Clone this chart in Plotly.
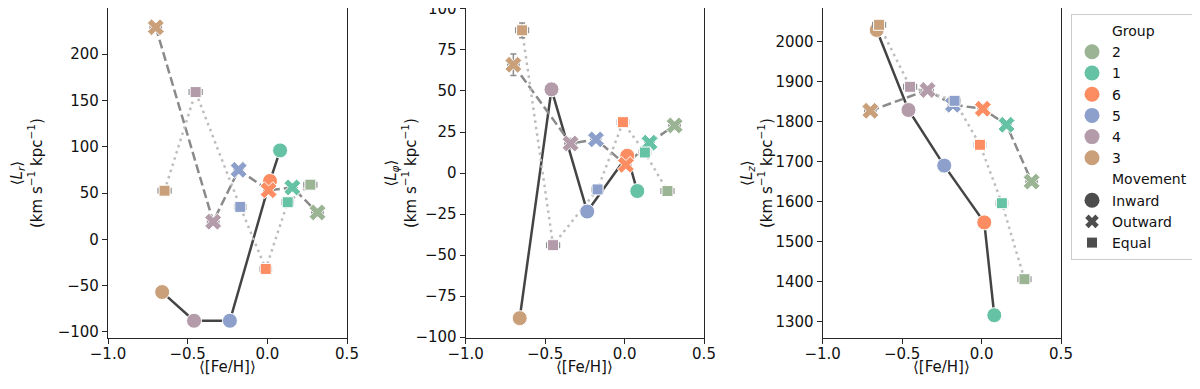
import plotly.graph_objects as go
from plotly.subplots import make_subplots

# groups in the order the lines run through them
groups = ['3', '4', '5', '6', '1', '2']
legend_groups = ['2', '1', '6', '5', '4', '3']
group_colors = {'2': '#9ab494', '1': '#66c2a5', '6': '#fc8d62',
                '5': '#8da0cb', '4': '#b39baa', '3': '#c9a07a'}

# <[Fe/H]> per group, one list per movement type (None = no such group)
feh_inward = [-0.66, -0.46, -0.235, 0.017, 0.08, None]
feh_outward = [-0.70, -0.34, -0.18, 0.008, 0.157, 0.315]
feh_equal = [-0.645, -0.45, -0.17, -0.01, 0.128, 0.27]
feh_err_inward = [0.03, 0.03, 0.03, 0.02, 0.02, None]
feh_err_outward = [0.035, 0.035, 0.03, 0.03, 0.03, 0.035]
feh_err_equal = [0.04, 0.04, 0.035, 0.035, 0.035, 0.04]

# <L_r>
lr_inward = [-57, -88, -88, 63, 96, None]
lr_outward = [229, 19, 75, 53, 56, 29]
lr_equal = [52.5, 159, 35, -32, 40, 59]
lr_err_inward = [2, 2, 2, 2, 2, None]
lr_err_outward = [4, 3, 2, 2, 2, 2]
lr_err_equal = [3, 4, 2, 2, 2, 2]

# <L_phi>
lphi_inward = [-88.5, 51, -23.5, 10.5, -11, None]
lphi_outward = [66, 18, 20.5, 5, 18.5, 29]
lphi_equal = [87, -44, -10, 31, 12.5, -11]
lphi_err_inward = [2, 2, 2, 2, 2, None]
lphi_err_outward = [6.5, 3, 2, 2, 2, 2]
lphi_err_equal = [4.5, 3, 2, 2, 2, 2]

# <L_z>
lz_inward = [2029, 1829, 1690, 1548, 1316, None]
lz_outward = [1827, 1879, 1842, 1832, 1792, 1650]
lz_equal = [2042, 1887, 1852, 1742, 1596, 1406]
lz_err_inward = [8, 6, 5, 5, 6, None]
lz_err_outward = [6, 6, 5, 5, 5, 6]
lz_err_equal = [9, 7, 5, 5, 6, 7]

panels = [
    (lr_inward, lr_outward, lr_equal, lr_err_inward, lr_err_outward, lr_err_equal),
    (lphi_inward, lphi_outward, lphi_equal, lphi_err_inward, lphi_err_outward, lphi_err_equal),
    (lz_inward, lz_outward, lz_equal, lz_err_inward, lz_err_outward, lz_err_equal),
]
y_ranges = [[-106.6, 249.8], [-100.6, 100.6], [1259, 2084]]
y_dticks = [50, 25, 100]
y_titles = ['⟨<i>L<sub>r</sub></i>⟩', '⟨<i>L<sub>φ</sub></i>⟩', '⟨<i>L<sub>z</sub></i>⟩']

FONT = 'DejaVu Sans'
# page body has an 8px margin, so the figure is a bit smaller than the window
OFF = 8
W, H = 1192, 381


def xp(px):
    return (px - OFF) / W


def yp(py):
    return 1 - (py - OFF) / H


fig = make_subplots(rows=1, cols=3)

movements = [
    ('Inward', 'circle', 15, '#444444', 'solid'),
    ('Outward', 'x', 15, '#8a8a8a', '9px,4px'),
    ('Equal', 'square', 11, '#bdbdbd', '2.5px,4px'),
]
fehs = [feh_inward, feh_outward, feh_equal]
feh_errs = [feh_err_inward, feh_err_outward, feh_err_equal]

for p, data in enumerate(panels):
    ys = data[:3]
    yerrs = data[3:]
    # connecting lines first, so markers sit on top
    for m, (name, sym, size, lcol, dash) in enumerate(movements):
        fig.add_trace(go.Scatter(x=fehs[m], y=ys[m], mode='lines',
                                 line=dict(color=lcol, width=2.5, dash=dash),
                                 showlegend=False, hoverinfo='skip'),
                      row=1, col=p + 1)
    for m, (name, sym, size, lcol, dash) in enumerate(movements):
        fig.add_trace(go.Scatter(
            x=fehs[m], y=ys[m], mode='markers',
            marker=dict(symbol=sym, size=size,
                        color=[group_colors[g] for g in groups],
                        line=dict(color='white', width=1)),
            error_x=dict(type='data', array=feh_errs[m], color='#8c8c8c',
                         thickness=1.5, width=3),
            error_y=dict(type='data', array=yerrs[m], color='#8c8c8c',
                         thickness=1.5, width=3),
            showlegend=False), row=1, col=p + 1)

# legend entries
def legend_entry(name, symbol='circle', color='rgba(0,0,0,0)', size=15):
    fig.add_trace(go.Scatter(x=[None], y=[None], mode='markers', name=name,
                             marker=dict(symbol=symbol, size=size, color=color,
                                         line=dict(width=0))))

legend_entry('Group')
for g in legend_groups:
    legend_entry(g, color=group_colors[g])
legend_entry('Movement')
legend_entry('Inward', 'circle', '#4d4d4d', 15)
legend_entry('Outward', 'x', '#4d4d4d', 12)
legend_entry('Equal', 'square', '#4d4d4d', 10)

x_domains = [[xp(108), xp(347)], [xp(465.7), xp(704)], [xp(822.7), xp(1061)]]
y_domain = [yp(338), yp(8)]
axis_style = dict(showline=True, mirror=True, linecolor='#262626', linewidth=1.2,
                  ticks='outside', ticklen=5, tickwidth=1.2, tickcolor='#262626',
                  showgrid=False, zeroline=False, automargin=False,
                  ticklabeloverflow='allow',
                  tickfont=dict(family=FONT, size=15, color='#111111'))

for i in range(3):
    fig.update_xaxes(domain=x_domains[i], range=[-1.0, 0.5], dtick=0.5, tick0=-1.0,
                     tickformat='.1f', ticklabelstandoff=-3, **axis_style,
                     row=1, col=i + 1)
    fig.update_yaxes(domain=y_domain, range=y_ranges[i], dtick=y_dticks[i],
                     **axis_style, row=1, col=i + 1)
    xc = (x_domains[i][0] + x_domains[i][1]) / 2
    fig.add_annotation(text='⟨[Fe/H]⟩', xref='paper', yref='paper', x=xc, y=yp(367),
                       xanchor='center', yanchor='middle', showarrow=False,
                       font=dict(family=FONT, size=15, color='#111111'))

y_title_x = [27, 401, 757]
for i in range(3):
    fig.add_annotation(text=y_titles[i] + '<br>(km s<sup>−1</sup> kpc<sup>−1</sup>)',
                       xref='paper', yref='paper', x=xp(y_title_x[i]), y=yp(173),
                       xanchor='center', yanchor='middle',
                       textangle=-90, showarrow=False,
                       font=dict(family=FONT, size=15, color='#111111'))

fig.update_layout(
    width=W, height=H,
    margin=dict(l=0, r=0, t=0, b=0, autoexpand=False),
    plot_bgcolor='white', paper_bgcolor='white',
    font=dict(family=FONT, size=15, color='#111111'),
    legend=dict(x=xp(1071), y=yp(14), xanchor='left', yanchor='top',
                bordercolor='#cccccc', borderwidth=1, bgcolor='white',
                font=dict(family=FONT, size=14, color='#111111'),
                tracegroupgap=0),
)

fig.write_html("out.html")
